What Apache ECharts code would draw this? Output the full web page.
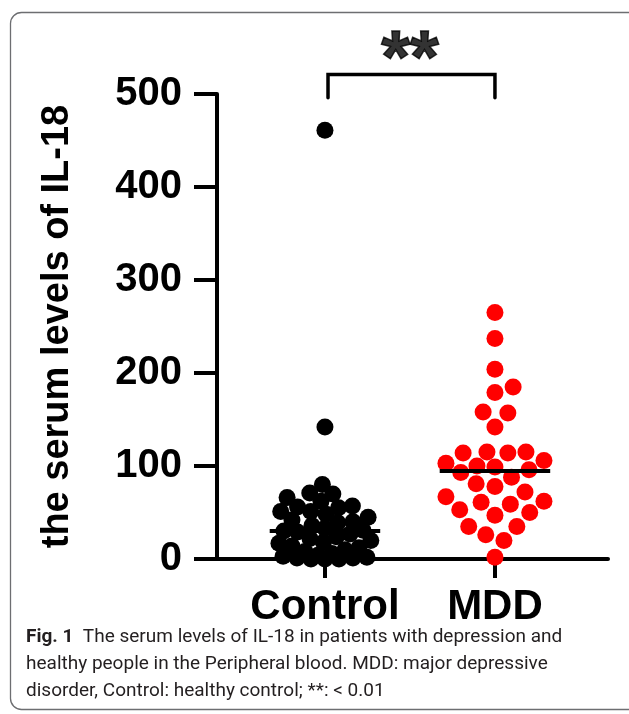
<!DOCTYPE html>
<html>
<head>
<meta charset="utf-8">
<script src="https://cdn.jsdelivr.net/npm/echarts@6/dist/echarts.min.js"></script>
<style>
  html, body { margin: 0; padding: 0; background: #fff; }
  #chart { width: 629px; height: 714px; }
</style>
</head>
<body>
<div id="chart"></div>
<script>
// groups and their positions on the x axis
const groups = ['Control', 'MDD'];
const groupPos = [1, 2];

// serum IL-18 values
const controlValues = [461, 142, 80, 71, 70, 66, 62, 57, 56, 55, 51, 51, 48, 45, 42, 40, 39, 36, 33, 31,
  30, 29, 27, 24, 22, 20, 18, 17, 14, 12, 10, 8, 6, 4, 3, 2, 1, 1, 0, 0, 0];
const mddValues = [265, 237, 204, 185, 179, 158, 157, 142, 115, 115, 114, 114, 106, 103, 100, 99, 96, 93,
  88, 81, 78, 72, 67, 62, 61, 59, 53, 50, 47, 35, 35, 26, 20, 2];

const yTicks = [0, 100, 200, 300, 400, 500];
const yTitle = 'the serum levels of IL-18';
const signif = '**';

// layout of the plot area (px)
const W = 629, H = 714;
const gridL = 217, gridR = 21, gridT = 94, gridB = 155;
const xMin = 0.365, xMax = 2.665;
const pxX = (W - gridL - gridR) / (xMax - xMin);
const pxY = (H - gridT - gridB) / 500;

const dotSize = 17;

// simple beeswarm: place points from low to high, as close to the centre as possible
function swarm(values, gap, maxHalf) {
  const order = values.map((v, i) => i).sort((a, b) => values[a] - values[b]);
  const placed = [];
  const offs = new Array(values.length).fill(0);
  order.forEach(i => {
    const y = values[i] * pxY;
    const near = placed.filter(p => Math.abs(p.y - y) < gap);
    let cands = [0];
    near.forEach(p => {
      const dx = Math.sqrt(gap * gap - (p.y - y) * (p.y - y));
      cands.push(p.x + dx, p.x - dx);
    });
    cands = cands.filter(x => Math.abs(x) <= maxHalf + 1e-6 &&
      near.every(p => Math.hypot(p.x - x, p.y - y) >= gap - 1e-6));
    let best = 0;
    if (cands.length) {
      best = cands.reduce((a, b) => (Math.abs(b) < Math.abs(a) ? b : a));
    } else {
      // no free spot: take the least crowded one
      let bestD = -1;
      for (let x = -maxHalf; x <= maxHalf; x += 1) {
        const d = Math.min(...near.map(p => Math.hypot(p.x - x, p.y - y)));
        if (d > bestD + 0.01 || (Math.abs(d - bestD) <= 0.01 && Math.abs(x) < Math.abs(best))) {
          bestD = d; best = x;
        }
      }
    }
    placed.push({ x: best, y: y });
    offs[i] = best / pxX;
  });
  return offs;
}

function median(arr) {
  const s = arr.slice().sort((a, b) => a - b);
  const m = Math.floor(s.length / 2);
  return s.length % 2 ? s[m] : (s[m - 1] + s[m]) / 2;
}

const ctrlOff = swarm(controlValues, 14, 46);
const mddOff = swarm(mddValues, 19, 49);
const ctrlData = controlValues.map((v, i) => [groupPos[0] + ctrlOff[i], v]);
const mddData = mddValues.map((v, i) => [groupPos[1] + mddOff[i], v]);

const halfW = 0.325;
const medCtrl = median(controlValues);
const medMdd = median(mddValues);

const boldFont = 'Liberation Sans, Arial, Helvetica, sans-serif';

const chart = echarts.init(document.getElementById('chart'));
chart.setOption({
  animation: false,
  backgroundColor: '#fff',
  grid: { left: gridL, right: gridR, top: gridT, bottom: gridB },
  xAxis: {
    type: 'value',
    min: xMin,
    max: xMax,
    splitLine: { show: false },
    axisLine: { lineStyle: { color: '#000', width: 4 } },
    axisTick: { show: true, customValues: groupPos, length: 19, lineStyle: { color: '#000', width: 4 } },
    axisLabel: {
      customValues: groupPos,
      formatter: v => groups[groupPos.indexOf(Math.round(v))] || '',
      color: '#000',
      fontSize: 42,
      fontWeight: 'bold',
      fontFamily: boldFont,
      margin: 27
    }
  },
  yAxis: {
    type: 'value',
    min: 0,
    max: 500,
    interval: 100,
    name: yTitle,
    nameLocation: 'middle',
    nameGap: 140,
    nameTextStyle: {
      color: '#000',
      fontSize: 38,
      fontWeight: 'bold',
      fontFamily: boldFont
    },
    splitLine: { show: false },
    axisLine: { show: true, lineStyle: { color: '#000', width: 4 } },
    axisTick: { show: true, length: 23, lineStyle: { color: '#000', width: 4 } },
    axisLabel: {
      formatter: v => (yTicks.indexOf(v) >= 0 ? String(v) : ''),
      color: '#000',
      fontSize: 40,
      fontWeight: 'bold',
      fontFamily: boldFont,
      margin: 35
    }
  },
  series: [
    {
      name: groups[0],
      type: 'scatter',
      data: ctrlData,
      symbolSize: dotSize,
      itemStyle: { color: '#000', opacity: 1 },
      z: 2
    },
    {
      name: groups[1],
      type: 'scatter',
      data: mddData,
      symbolSize: dotSize,
      itemStyle: { color: '#ff0000', opacity: 1 },
      z: 2
    },
    {
      type: 'line',
      data: [[groupPos[0] - halfW, medCtrl], [groupPos[0] + halfW, medCtrl]],
      symbol: 'none',
      lineStyle: { color: '#000', width: 4 },
      z: 3
    },
    {
      type: 'line',
      data: [[groupPos[1] - halfW, medMdd], [groupPos[1] + halfW, medMdd]],
      symbol: 'none',
      lineStyle: { color: '#000', width: 4 },
      z: 3
    },
    {
      // significance bracket
      type: 'line',
      clip: false,
      data: [[groupPos[0] + 0.018, 496], [groupPos[0] + 0.018, 521], [groupPos[1], 521], [groupPos[1], 496]],
      symbol: 'none',
      lineStyle: { color: '#000', width: 3.5, cap: 'round', join: 'miter' },
      z: 3
    },
    {
      type: 'scatter',
      clip: false,
      data: [[(groupPos[0] + groupPos[1]) / 2, 535]],
      symbolSize: 1,
      itemStyle: { color: 'transparent' },
      label: {
        show: true,
        position: 'inside',
        formatter: signif,
        color: '#000',
        fontSize: 74,
        fontWeight: 'bold',
        fontFamily: boldFont,
        textBorderColor: '#000',
        textBorderWidth: 1.5
      }
    }
  ],
  graphic: [
    {
      type: 'rect',
      shape: { x: 10.5, y: 12.5, width: 640, height: 697, r: 11 },
      style: { fill: 'none', stroke: '#6d6e71', lineWidth: 1.3 },
      silent: true
    },
    {
      type: 'text',
      left: 26,
      top: 624,
      style: {
        text: '{b|Fig. 1}  The serum levels of IL-18 in patients with depression and\n' +
          'healthy people in the Peripheral blood. MDD: major depressive\n' +
          'disorder, Control: healthy control; **: < 0.01',
        fontSize: 19,
        lineHeight: 27,
        fontFamily: 'Roboto, sans-serif',
        fill: '#231f20',
        rich: {
          b: { fontWeight: 'bold', fontSize: 19, fontFamily: 'Roboto, sans-serif', fill: '#231f20' }
        }
      }
    }
  ]
});
</script>
</body>
</html>
